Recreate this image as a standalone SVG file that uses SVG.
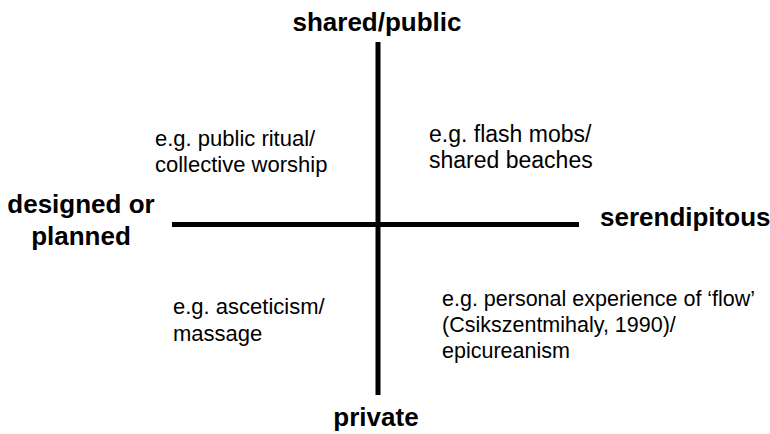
<svg xmlns="http://www.w3.org/2000/svg" width="770" height="434" viewBox="0 0 770 434">
  <style>
    .axis { stroke: #000; stroke-width: 5; fill: none; }
    .pole { font-family: "Liberation Sans", Arial, sans-serif; font-weight: bold; font-size: 26px; fill: #000; }
    .note { font-family: "Liberation Sans", Arial, sans-serif; font-size: 22px; fill: #000; }
  </style>
  <rect width="770" height="434" fill="#fff"/>
  <g id="connectors">
    <line class="axis" x1="378" y1="42" x2="378" y2="395"/>
    <line class="axis" x1="172" y1="224.5" x2="579" y2="224.5"/>
  </g>
  <g id="pole-shared">
    <text class="pole" x="377" y="31" text-anchor="middle">shared/public</text>
  </g>
  <g id="pole-private">
    <text class="pole" x="376" y="426" text-anchor="middle">private</text>
  </g>
  <g id="pole-designed">
    <text class="pole" x="81" y="213" text-anchor="middle">designed or</text>
    <text class="pole" x="81" y="245" text-anchor="middle">planned</text>
  </g>
  <g id="pole-serendipitous">
    <text class="pole" x="600" y="226">serendipitous</text>
  </g>
  <g id="quadrant-top-left">
    <text class="note" x="155" y="146">e.g. public ritual/</text>
    <text class="note" x="155" y="172">collective worship</text>
  </g>
  <g id="quadrant-top-right" style="font-size:23px">
    <text class="note" x="429" y="142" style="font-size:23px">e.g. flash mobs/</text>
    <text class="note" x="429" y="168" style="font-size:23px">shared beaches</text>
  </g>
  <g id="quadrant-bottom-left">
    <text class="note" x="173" y="314">e.g. asceticism/</text>
    <text class="note" x="173" y="341">massage</text>
  </g>
  <g id="quadrant-bottom-right">
    <text class="note" x="442" y="306" style="font-size:21.5px">e.g. personal experience of ‘flow’</text>
    <text class="note" x="442" y="332" style="font-size:21.5px">(Csikszentmihaly, 1990)/</text>
    <text class="note" x="442" y="358" style="font-size:21.5px">epicureanism</text>
  </g>
</svg>
